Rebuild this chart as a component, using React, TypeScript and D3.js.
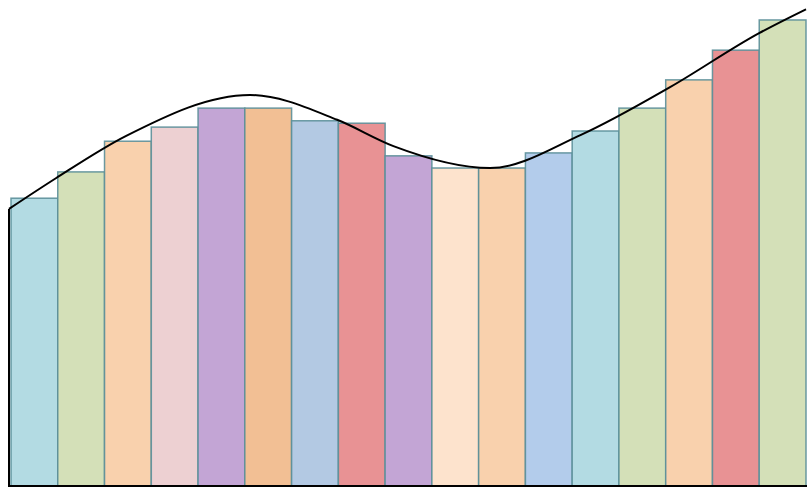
import React from "react";
import * as d3 from "d3";

const categories = ["A","B","C","D","E","F","G","H","I","J","K","L","M","N","O","P","Q"];
const barValues = [59.3, 64.7, 71.0, 73.9, 77.8, 77.8, 75.2, 74.7, 68.0, 65.5, 65.5, 68.6, 73.1, 77.8, 83.6, 89.7, 95.9];
const barColors = ["#b3dbe3","#d4e0b8","#f9d1ad","#edd0d2","#c3a5d5","#f2bf94","#b3c9e3","#e89294","#c3a5d5","#fde3cd","#f9d1ad","#b3cceb","#b3dbe3","#d4e0b8","#f9d1ad","#e89294","#d4e0b8"];
// curve samples: position along the category axis (0..17) and value
const curvePos = [0, 1, 2.5, 5.14, 7, 8.2, 10.26, 12.2, 14.1, 16, 17];
const curveValues = [57.1, 63.4, 72.1, 80.5, 75.4, 70.0, 65.5, 72.3, 82.1, 93.2, 98.1];

const W = 807;
const H = 487;

export default function App() {
  const x = d3.scaleBand<string>().domain(categories).range([11, 806]).padding(0);
  const y = d3.scaleLinear().domain([0, 100]).range([487, 0]);
  const cx = d3.scaleLinear().domain([0, categories.length]).range([9, 806]);
  const line = d3
    .line<number>()
    .x((_, i) => cx(curvePos[i]))
    .y((d) => y(d))
    .curve(d3.curveMonotoneX);
  const curvePath = line(curveValues) || "";
  return (
    <svg width={W} height={H} style={{ position: "absolute", left: 0, top: 0, background: "#fff" }}>
      {categories.map((c, i) => (
        <rect
          key={c}
          x={x(c)!}
          y={y(barValues[i])}
          width={x.bandwidth()}
          height={y(0) - y(barValues[i]) + 2}
          fill={barColors[i]}
          stroke="#5b8f99"
          strokeOpacity={0.9}
          strokeWidth={1.5}
        />
      ))}
      <line x1={9} x2={9} y1={y(curveValues[0])} y2={H} stroke="#000" strokeWidth={2} />
      <line x1={9} x2={W} y1={486} y2={486} stroke="#000" strokeWidth={2} />
      <path d={curvePath} fill="none" stroke="#000" strokeWidth={2} />
    </svg>
  );
}
